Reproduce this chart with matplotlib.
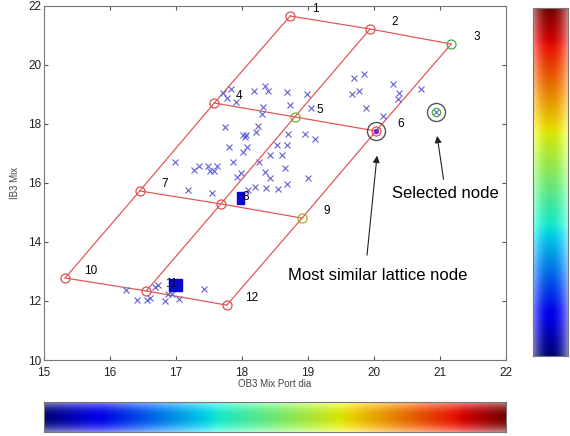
import numpy as np
import matplotlib
matplotlib.use('Agg')
import matplotlib.pyplot as plt
from matplotlib.patches import Rectangle

plt.rcParams['font.family'] = ['Liberation Sans', 'DejaVu Sans']

# lattice nodes (x = OB3 Mix Port dia, y = IB3 Mix), 4 rows x 3 cols
node_x = [18.73, 19.94, 21.17, 17.58, 18.80, 20.03, 16.45, 17.68, 18.91, 15.32, 16.55, 17.77]
node_y = [21.66, 21.22, 20.71, 18.71, 18.24, 17.76, 15.73, 15.29, 14.81, 12.78, 12.34, 11.86]
node_col = ['#e05050', '#e05050', '#40b040', '#e05050', '#70b030', '#e05050',
            '#e05050', '#e05050', '#b0a830', '#e05050', '#e05050', '#e05050']

# observations
obs_x = [17.71, 17.83, 17.77, 17.91, 18.18, 18.35, 18.39, 18.68, 18.98, 18.32,
         18.30, 18.73, 19.05, 17.74, 18.24, 18.21, 18.02, 18.06, 18.05, 17.80,
         18.08, 18.02, 17.86, 16.98, 17.27, 17.35, 17.48, 17.52, 17.58, 17.62,
         17.92, 17.98, 18.26, 18.35, 18.42, 18.53, 18.68, 18.42, 18.61, 18.70,
         18.95, 19.11, 18.65, 18.68, 19.00, 17.18, 17.55, 18.09, 18.20, 18.36,
         18.55, 19.70, 19.85, 19.67, 19.77, 19.88, 20.29, 20.38, 20.36, 20.71,
         20.14, 16.24, 16.41, 16.56, 16.61, 16.68, 16.73, 16.83, 16.88, 16.94,
         17.05, 17.42]
obs_y = [19.05, 19.19, 18.88, 18.75, 19.12, 19.29, 19.12, 19.08, 19.02, 18.58,
         18.34, 18.64, 18.54, 17.90, 17.93, 17.73, 17.63, 17.63, 17.56, 17.22,
         17.22, 17.05, 16.71, 16.71, 16.44, 16.58, 16.58, 16.41, 16.41, 16.58,
         16.20, 16.34, 16.71, 16.37, 16.17, 17.29, 17.29, 16.95, 16.95, 17.66,
         17.66, 17.49, 16.51, 15.97, 16.17, 15.76, 15.66, 15.76, 15.86, 15.83,
         15.80, 19.56, 19.69, 19.02, 19.12, 18.54, 19.36, 19.05, 18.85, 19.19,
         18.27, 12.37, 12.03, 12.03, 12.10, 12.47, 12.54, 12.00, 12.24, 12.24,
         12.07, 12.41]

sel_x, sel_y = 20.94, 18.41

# hit bars: node index, width, height
hit_nodes = [7, 10]
hit_center = [(17.98, 15.49), (16.99, 12.54)]
hit_w = [0.106, 0.197]
hit_h = [0.41, 0.41]

fig = plt.figure(figsize=(5.7, 4.36), dpi=100)
ax = fig.add_axes([0.0772, 0.1743, 0.8105, 0.812])

nx = np.array(node_x).reshape(4, 3)
ny = np.array(node_y).reshape(4, 3)
for r in range(4):
    ax.plot(nx[r], ny[r], color='#e25858', lw=0.9, zorder=2)
for c in range(3):
    ax.plot(nx[:, c], ny[:, c], color='#e25858', lw=0.9, zorder=2)

ax.plot(obs_x, obs_y, 'x', color='#6060d4', ms=4.5, mew=0.8, zorder=3)

for i in range(12):
    ax.plot(node_x[i], node_y[i], 'o', mfc='none', mec=node_col[i], ms=6.5, mew=0.9, zorder=4)

# most similar node and selected node
ax.plot(node_x[5], node_y[5], 'o', color='#7030c0', ms=3, zorder=5)
ax.plot(node_x[5], node_y[5], 'o', mfc='none', mec='#555555', ms=13, mew=1.0, zorder=5)
ax.plot(sel_x, sel_y, 'x', color='#6060d4', ms=4.5, mew=0.8, zorder=5)
ax.plot(sel_x, sel_y, 'o', mfc='none', mec='#40b040', ms=6, mew=0.9, zorder=5)
ax.plot(sel_x, sel_y, 'o', mfc='none', mec='#555555', ms=13, mew=1.0, zorder=5)

for (cx, cy), w, h in zip(hit_center, hit_w, hit_h):
    ax.add_patch(Rectangle((cx - w / 2, cy - h / 2), w, h, color='#0a0acc', zorder=6))

for i in range(12):
    col = '#000040' if i in hit_nodes else 'black'
    ax.text(node_x[i] + 0.38, node_y[i] + 0.24, str(i + 1), fontsize=8.5,
            ha='center', va='center', color=col, zorder=7)

ax.annotate('', xy=(20.95, 17.69), xytext=(21.06, 16.03),
            arrowprops=dict(arrowstyle='-|>', color='#222222', lw=0.8, mutation_scale=10))
ax.annotate('', xy=(20.05, 17.02), xytext=(19.89, 13.46),
            arrowprops=dict(arrowstyle='-|>', color='#222222', lw=0.8, mutation_scale=10))
ax.text(21.08, 15.66, 'Selected node', fontsize=12, ha='center', va='center')
ax.text(20.05, 12.85, 'Most similar lattice node', fontsize=12, ha='center', va='center')

ax.set_xlim(15, 22)
ax.set_ylim(10, 22)
ax.set_xticks(range(15, 23))
ax.set_yticks(range(10, 23, 2))
ax.tick_params(direction='in', top=True, right=True, length=3, labelsize=8.5,
               colors='#555555', labelcolor='#222222', pad=2)
ax.tick_params(axis='x', pad=5)
for s in ax.spines.values():
    s.set_color('#777777')
ax.set_xlabel('OB3 Mix Port dia', fontsize=7, color='#444444', labelpad=0)
ax.set_ylabel('IB3 Mix', fontsize=7, color='#444444', labelpad=6)


def shaded_bar(n, m, vertical):
    t = np.linspace(0, 1, n)
    cols = plt.cm.jet(t)[:, :3]
    u = np.abs(np.linspace(-1, 1, m))
    white = 0.5 * u ** 2
    dark = 0.1 * (1 - u ** 2)
    img = cols[:, None, :] * (1 - dark[None, :, None])
    img = img * (1 - white[None, :, None]) + white[None, :, None]
    if vertical:
        return img[::-1]
    return np.transpose(img, (1, 0, 2))


cax1 = fig.add_axes([0.935, 0.1835, 0.0614, 0.798])
cax1.imshow(shaded_bar(256, 40, True), aspect='auto')
cax2 = fig.add_axes([0.0772, 0.0092, 0.8105, 0.0688])
cax2.imshow(shaded_bar(256, 40, False), aspect='auto')
for c in (cax1, cax2):
    c.set_xticks([])
    c.set_yticks([])
    for s in c.spines.values():
        s.set_color('#777777')

fig.savefig('out.png', dpi=100)
